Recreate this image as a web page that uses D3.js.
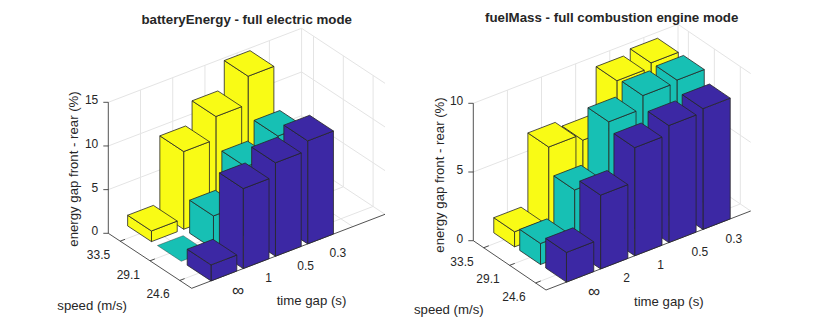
<!DOCTYPE html>
<html>
<head>
<meta charset="utf-8">
<script src="https://cdn.jsdelivr.net/npm/d3@7"></script>
<style>
  body { margin: 0; background: #fff; }
  text { font-family: "Liberation Sans", Arial, sans-serif; fill: #262626; }
</style>
</head>
<body>
<div id="container"></div>
<script>
const speeds = ['24.6', '29.1', '33.5']

//left chart
const timeGapsElectric = ['∞', '1', '0.5', '0.3']
const electricAt246 = [1.83, 9.16, 10.7, 11.8]
const electricAt291 = [0, 3.78, 8.0, 10.1]
const electricAt335 = [1.22, 8.9, 11.5, 14.7]
const electricTicks = [0, 5, 10, 15]

//right chart
const timeGapsCombustion = ['∞', '2', '1', '0.5', '0.3']
const combustionAt246 = [2.16, 5.37, 7.87, 8.52, 8.79]
const combustionAt291 = [1.53, 4.47, 8.47, 9.42, 9.59]
const combustionAt335 = [1.1, 6.31, 5.85, 9.22, 9.56]
const combustionTicks = [0, 5, 10]

const colors = ['#3c28a4', '#17c0b4', '#f9fb15']
const axisColor = '#262626'
const gridColor = '#e4e4e4'
const barWidth = 0.8

const svg = d3.select('#container')
  .append('svg')
  .attr('width', 830)
  .attr('height', 329)
  .style('display', 'block')

function drawPanel(p) {
  const g = svg.append('g')

  //oblique projection: one scale per screen contribution of each data axis
  const tx = d3.scaleLinear().domain([0, 6]).range([0, p.right[0] - p.front[0]])
  const ty = d3.scaleLinear().domain([0, 6]).range([0, p.right[1] - p.front[1]])
  const sx = d3.scaleLinear().domain([0.6, 3.4]).range([0, p.back[0] - p.front[0]])
  const sy = d3.scaleLinear().domain([0.6, 3.4]).range([0, p.back[1] - p.front[1]])
  const z = d3.scaleLinear().domain(p.zDomain).range([0, -p.zPixels])

  const project = (t, s, v) => [p.front[0] + tx(t) + sx(s), p.front[1] + ty(t) + sy(s) + z(v)]
  const line = d3.line()
  const poly = pts => line(pts) + 'Z'

  const zMax = p.zDomain[1]
  const gridLine = pts => g.append('path')
    .attr('d', line(pts))
    .attr('fill', 'none')
    .attr('stroke', gridColor)
    .attr('stroke-width', 1)

  //GRID
  d3.range(1, 7).forEach(t => {
    gridLine([project(t, 0.6, 0), project(t, 3.4, 0), project(t, 3.4, zMax)])
  })
  speeds.forEach((d, i) => {
    gridLine([project(0, i + 1, 0), project(6, i + 1, 0), project(6, i + 1, zMax)])
  })
  p.zTicks.slice(1).forEach(v => {
    gridLine([project(0, 3.4, v), project(6, 3.4, v), project(6, 0.6, v)])
  })

  //AXES
  const axisLine = pts => g.append('path')
    .attr('d', line(pts))
    .attr('fill', 'none')
    .attr('stroke', axisColor)
    .attr('stroke-width', 0.8)

  axisLine([project(0, 3.4, 0), project(0, 3.4, zMax)])
  axisLine([project(0, 3.4, 0), project(0, 0.6, 0), project(6, 0.6, 0)])

  p.zTicks.forEach(v => {
    const a = project(0, 3.4, v)
    axisLine([a, [a[0] - 5, a[1]]])
    g.append('text')
      .attr('x', a[0] - 10)
      .attr('y', a[1] + p.zLabelDy)
      .attr('text-anchor', 'end')
      .attr('font-size', 12)
      .text(v)
  })

  speeds.forEach((d, i) => {
    const a = project(0, i + 1, 0)
    axisLine([a, project(0.15, i + 1, 0)])
    g.append('text')
      .attr('x', a[0] - 10)
      .attr('y', a[1] + 18)
      .attr('text-anchor', 'end')
      .attr('font-size', 12)
      .text(d)
  })

  p.timeGaps.forEach((d, i) => {
    const a = project(i + 1, 0.6, 0)
    axisLine([a, project(i + 1, 0.73, 0)])
    //the infinity glyph comes out small, so it gets a bigger size
    g.append('text')
      .attr('x', a[0] + (d === '∞' ? 8 : 9))
      .attr('y', a[1] + (d === '∞' ? 20.5 : 18.5))
      .attr('font-size', d === '∞' ? 17 : 12)
      .text(d)
  })

  //BARS, far to near
  const half = barWidth / 2
  d3.range(2, -1, -1).forEach(k => {
    d3.range(p.timeGaps.length - 1, -1, -1).forEach(i => {
      const v = p.series[k][i]
      const t0 = i + 1 - half
      const t1 = i + 1 + half
      const s0 = k + 1 - half
      const s1 = k + 1 + half
      const faces = v === 0
        ? [[[t0, s0, 0], [t1, s0, 0], [t1, s1, 0], [t0, s1, 0]]]
        : [
          [[t0, s0, 0], [t1, s0, 0], [t1, s0, v], [t0, s0, v]],
          [[t0, s0, 0], [t0, s1, 0], [t0, s1, v], [t0, s0, v]],
          [[t0, s0, v], [t1, s0, v], [t1, s1, v], [t0, s1, v]]
        ]
      g.selectAll(null)
        .data(faces)
        .enter()
        .append('path')
        .attr('d', f => poly(f.map(q => project(q[0], q[1], q[2]))))
        .attr('fill', colors[k])
        .attr('stroke', axisColor)
        .attr('stroke-width', v === 0 ? 0.4 : 0.8)
        .attr('stroke-linejoin', 'round')
    })
  })

  //TITLES
  g.append('text')
    .attr('x', p.title[0])
    .attr('y', p.title[1])
    .attr('text-anchor', 'middle')
    .attr('font-size', 13.3)
    .attr('font-weight', 'bold')
    .text(p.titleText)

  g.append('text')
    .attr('transform', `translate(${p.zLabel[0]},${p.zLabel[1]}) rotate(-90)`)
    .attr('text-anchor', 'middle')
    .attr('font-size', 13.2)
    .text('energy gap front - rear (%)')

  g.append('text')
    .attr('x', p.speedLabel[0])
    .attr('y', p.speedLabel[1])
    .attr('font-size', 13.2)
    .text('speed (m/s)')

  g.append('text')
    .attr('x', p.timeLabel[0])
    .attr('y', p.timeLabel[1])
    .attr('font-size', 13.2)
    .text('time gap (s)')
}

drawPanel({
  titleText: 'batteryEnergy - full electric mode',
  timeGaps: timeGapsElectric,
  series: [electricAt246, electricAt291, electricAt335],
  zTicks: electricTicks,
  zDomain: [0, 15],
  zPixels: 131,
  zLabelDy: 2,
  front: [191.7, 288.3],
  right: [385, 214.3],
  back: [108.3, 233.3],
  title: [246.7, 24],
  zLabel: [78, 169],
  speedLabel: [57.3, 310],
  timeLabel: [276.7, 305]
})

drawPanel({
  titleText: 'fuelMass - full combustion engine mode',
  timeGaps: timeGapsCombustion,
  series: [combustionAt246, combustionAt291, combustionAt335],
  zTicks: combustionTicks,
  zDomain: [0, 10],
  zPixels: 137.4,
  zLabelDy: 2,
  front: [546, 290],
  right: [750.7, 211],
  back: [473.3, 240.7],
  title: [611.7, 22],
  zLabel: [443.5, 175],
  speedLabel: [414, 314],
  timeLabel: [634, 306]
})
</script>
</body>
</html>
